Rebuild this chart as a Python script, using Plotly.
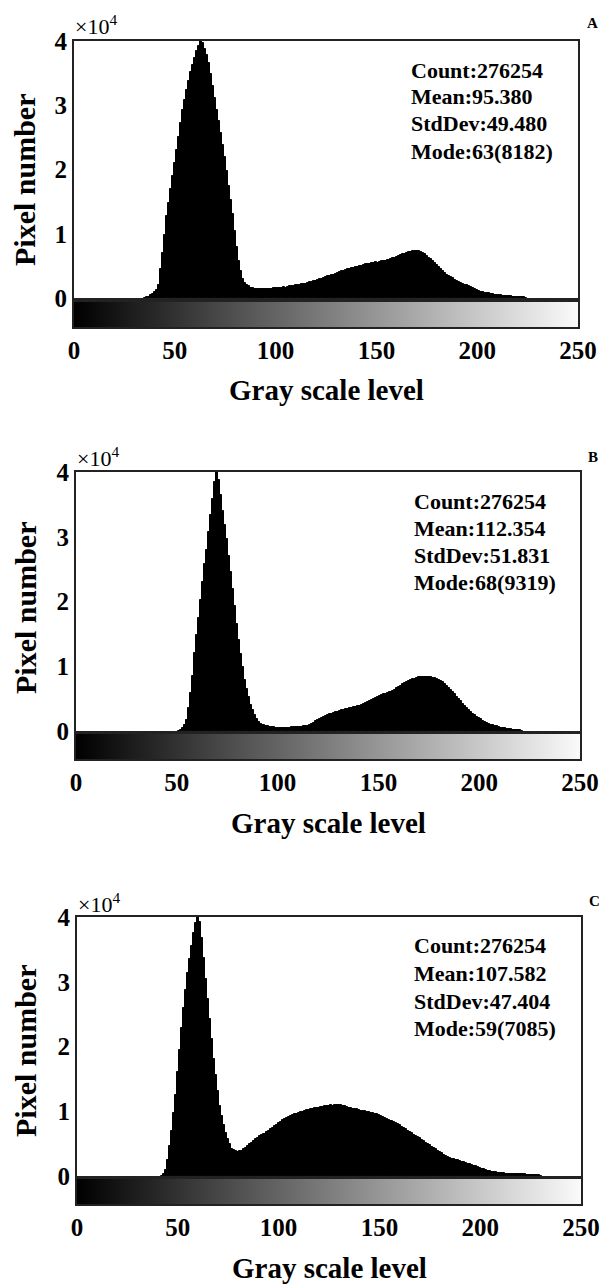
import plotly.graph_objects as go

W, H = 610, 1285

# ---------------- data ----------------
gray_ticks = [0, 50, 100, 150, 200, 250]
gray_tick_text = ["0", "50", "100", "150", "200", "250"]
y_ticks = [0, 10000, 20000, 30000, 40000]
y_tick_text = ["0", "1", "2", "3", "4"]

a_start = 35
a_counts = [0, 100, 200, 400, 600, 900, 1300, 2000, 4500, 7000,
            9800, 12800, 14800, 16900, 19000, 21000, 23000, 25000, 27200, 29300,
            30800, 32300, 33800, 35200, 36300, 37400, 38500, 39200, 40000, 39700,
            38800, 37800, 36500, 34800, 33000, 31200, 29300, 27500, 25700, 23800,
            22000, 19700, 17500, 15200, 13000, 10500, 8000, 5800, 4200, 3000,
            2400, 2000, 1800, 1600, 1500, 1400, 1350, 1420, 1380, 1330,
            1400, 1450, 1380, 1420, 1480, 1500, 1560, 1520, 1600, 1650,
            1620, 1700, 1800, 1850, 1900, 1980, 2050, 2000, 2150, 2250,
            2200, 2350, 2450, 2550, 2600, 2700, 2800, 2900, 3000, 3100,
            3200, 3350, 3450, 3600, 3650, 3800, 3900, 4000, 4150, 4200,
            4300, 4450, 4500, 4600, 4700, 4800, 4850, 5000, 5050, 5100,
            5250, 5300, 5350, 5400, 5500, 5550, 5500, 5650, 5700, 5750,
            5800, 5900, 6000, 6150, 6300, 6450, 6600, 6700, 6800, 6900,
            7000, 7100, 7150, 7250, 7300, 7350, 7300, 7200, 7000, 6800,
            6600, 6300, 6000, 5700, 5400, 5100, 4800, 4500, 4200, 3900,
            3650, 3450, 3250, 3050, 2850, 2700, 2550, 2400, 2250, 2100,
            1950, 1800, 1650, 1500, 1350, 1200, 1100, 1000, 920, 850,
            800, 750, 680, 600, 540, 480, 430, 390, 350, 320,
            290, 260, 240, 220, 200, 180, 160, 140, 100, 60]

b_start = 51
b_counts = [0, 100, 400, 900, 1700, 3500, 5800, 8500, 12000, 14800,
            17500, 20300, 23000, 25800, 28000, 30700, 33300, 35800, 38500, 40000,
            38800, 36400, 34000, 31800, 29600, 27000, 24500, 21900, 19300, 16600,
            14000, 11900, 9900, 7900, 6500, 5200, 4000, 3200, 2500, 1900,
            1400, 1150, 1000, 850, 750, 680, 600, 560, 530, 500,
            500, 480, 500, 520, 500, 530, 560, 580, 600, 620,
            650, 680, 700, 720, 850, 1000, 1150, 1300, 1500, 1700,
            1850, 2000, 2150, 2300, 2450, 2550, 2700, 2800, 2900, 3000,
            3100, 3200, 3300, 3350, 3400, 3500, 3550, 3650, 3700, 3800,
            3900, 4000, 4150, 4300, 4450, 4600, 4800, 4950, 5100, 5250,
            5400, 5500, 5650, 5750, 5800, 6000, 6200, 6400, 6600, 6800,
            7000, 7200, 7400, 7600, 7750, 7900, 8000, 8100, 8200, 8300,
            8350, 8400, 8300, 8400, 8350, 8300, 8250, 8150, 8050, 7900,
            7750, 7600, 7300, 7000, 6700, 6400, 6000, 5700, 5300, 5000,
            4600, 4200, 3900, 3600, 3300, 3000, 2700, 2450, 2200, 2000,
            1800, 1600, 1400, 1250, 1100, 1000, 900, 800, 700, 600,
            520, 450, 400, 350, 300, 260, 220, 180, 140, 100,
            50]

c_start = 42
c_counts = [0, 300, 1000, 2500, 4600, 7000, 9800, 12500, 16000, 19500,
            22800, 26000, 28800, 31300, 33500, 35500, 37600, 39000, 40000, 39200,
            36700, 33600, 30500, 27400, 24200, 21100, 18000, 15600, 13200, 10800,
            9300, 7800, 6600, 5700, 4900, 4200, 4000, 3800, 3750, 3800,
            3900, 4100, 4350, 4700, 4900, 5100, 5400, 5650, 5900, 6150,
            6350, 6550, 6750, 6950, 7200, 7400, 7650, 7900, 8150, 8350,
            8600, 8800, 9000, 9150, 9300, 9400, 9550, 9650, 9750, 9850,
            9950, 10050, 10150, 10250, 10300, 10350, 10450, 10500, 10550, 10650,
            10700, 10750, 10800, 10850, 10900, 10850, 10900, 11000, 10950, 10900,
            10850, 10800, 10650, 10500, 10450, 10400, 10350, 10300, 10200, 10100,
            10050, 10000, 9900, 9850, 9750, 9700, 9600, 9550, 9450, 9300,
            9150, 9000, 8850, 8700, 8550, 8350, 8200, 8000, 7800, 7600,
            7400, 7200, 7000, 6800, 6600, 6400, 6200, 6000, 5800, 5600,
            5400, 5150, 4950, 4750, 4500, 4300, 4100, 3900, 3700, 3500,
            3300, 3150, 3000, 2850, 2700, 2600, 2500, 2400, 2300, 2200,
            2100, 2000, 1900, 1800, 1700, 1600, 1500, 1400, 1300, 1150,
            1050, 950, 850, 750, 680, 620, 560, 500, 460, 420,
            400, 380, 360, 340, 320, 300, 280, 270, 260, 250,
            240, 220, 200, 180, 170, 160, 150, 100, 50]

panel_letters = ["A", "B", "C"]
stats_text = [
    ["Count:276254", "Mean:95.380", "StdDev:49.480", "Mode:63(8182)"],
    ["Count:276254", "Mean:112.354", "StdDev:51.831", "Mode:68(9319)"],
    ["Count:276254", "Mean:107.582", "StdDev:47.404", "Mode:59(7085)"],
]
starts = [a_start, b_start, c_start]
counts = [a_counts, b_counts, c_counts]
gradient_levels = list(range(256))

# ---------------- layout geometry (pixels) ----------------
panels = [
    dict(x0=74, x1=578, top=41, zero=298, g0=302, g1=327, xt=390, mul=25,
         letter=(592, 23), stats_x=409, stats_y=[70, 97, 124, 151], ytitle=180),
    dict(x0=76, x1=580, top=472, zero=731, g0=734, g1=759, xt=823, mul=457,
         letter=(593, 457), stats_x=412, stats_y=[502, 528, 555, 583], ytitle=608),
    dict(x0=77, x1=581, top=917, zero=1176, g0=1179, g1=1204, xt=1268, mul=903,
         letter=(594, 901), stats_x=412, stats_y=[945, 973, 1001, 1028], ytitle=1051),
]

FONT = "Liberation Serif"

def px(x):
    return x / W

def py(y):
    return 1 - y / H

fig = go.Figure()
layout = dict(template="none", width=W, height=H, autosize=False,
              margin=dict(l=0, r=0, t=0, b=0, pad=0, autoexpand=False),
              paper_bgcolor="white", plot_bgcolor="white", showlegend=False,
              bargap=0, font=dict(family=FONT, color="black"))
annotations = []

for i, p in enumerate(panels):
    hx = 2 * i + 1
    gx = 2 * i + 2
    hxn = "x" if hx == 1 else f"x{hx}"
    hyn = "y" if hx == 1 else f"y{hx}"
    gxn = f"x{gx}"
    gyn = f"y{gx}"
    levels = list(range(starts[i], starts[i] + len(counts[i])))

    fig.add_trace(go.Bar(x=levels, y=counts[i], width=1,
                         marker=dict(color="black", line=dict(color="black", width=1)),
                         xaxis=hxn, yaxis=hyn, hoverinfo="skip"))
    fig.add_trace(go.Heatmap(z=[gradient_levels], x=gradient_levels, y=[0],
                             colorscale=[[0, "black"], [1, "white"]],
                             showscale=False, xaxis=gxn, yaxis=gyn, hoverinfo="skip"))

    hk = "xaxis" if hx == 1 else f"xaxis{hx}"
    hyk = "yaxis" if hx == 1 else f"yaxis{hx}"
    layout[hk] = dict(domain=[px(p["x0"]), px(p["x1"])], range=[0, 250],
                      anchor=hyn, showticklabels=False, ticks="", showgrid=False,
                      zeroline=False, showline=True, mirror=True, automargin=False,
                      linecolor="#222", linewidth=2)
    layout[hyk] = dict(domain=[py(p["zero"]), py(p["top"])], range=[0, 40000],
                       anchor=hxn, tickmode="array", tickvals=y_ticks,
                       ticktext=y_tick_text, ticks="", showgrid=False,
                       zeroline=False, showline=True, mirror=True, automargin=False,
                       linecolor="#222", linewidth=2,
                       tickfont=dict(family=FONT, size=25, weight="bold"))
    layout[f"xaxis{gx}"] = dict(domain=[px(p["x0"]), px(p["x1"])], range=[0, 250],
                                anchor=gyn, tickmode="array", tickvals=gray_ticks,
                                ticktext=gray_tick_text, ticks="", showgrid=False,
                                zeroline=False, showline=True, mirror=True,
                                automargin=False,
                                linecolor="#222", linewidth=2, ticklabelstandoff=0,
                                tickfont=dict(family=FONT, size=25, weight="bold"))
    layout[f"yaxis{gx}"] = dict(domain=[py(p["g1"]), py(p["g0"])], range=[-0.5, 0.5],
                                anchor=gxn, showticklabels=False, ticks="",
                                showgrid=False, zeroline=False, showline=True,
                                mirror=True, automargin=False,
                                linecolor="#222", linewidth=2)

    annotations.append(dict(text="Gray scale level", x=px((p["x0"] + p["x1"]) / 2),
                            y=py(p["xt"]), xref="paper", yref="paper",
                            showarrow=False, xanchor="center", yanchor="middle",
                            font=dict(family=FONT, size=29, weight="bold")))
    annotations.append(dict(text="Pixel number", x=px(25), y=py(p["ytitle"]),
                            xref="paper", yref="paper", showarrow=False,
                            textangle=-90, xanchor="center", yanchor="middle",
                            font=dict(family=FONT, size=30, weight="bold")))
    annotations.append(dict(text="×10<sup>4</sup>", x=px(p["x0"] - 1), y=py(p["mul"]),
                            xref="paper", yref="paper", showarrow=False,
                            xanchor="left", yanchor="middle",
                            font=dict(family=FONT, size=22)))
    annotations.append(dict(text=panel_letters[i], x=px(p["letter"][0]),
                            y=py(p["letter"][1]), xref="paper", yref="paper",
                            showarrow=False, xanchor="center", yanchor="middle",
                            font=dict(family=FONT, size=15, weight="bold")))
    for line, yy in zip(stats_text[i], p["stats_y"]):
        annotations.append(dict(text=line, x=px(p["stats_x"]), y=py(yy),
                                xref="paper", yref="paper", showarrow=False,
                                xanchor="left", yanchor="middle",
                                font=dict(family=FONT, size=22, weight="bold")))

layout["annotations"] = annotations
fig.update_layout(**layout)
fig.write_html("out.html", config={"displayModeBar": False},
               post_script="document.body.style.margin='0';"
                           "document.body.style.overflow='hidden';"
                           "document.documentElement.style.overflow='hidden';")
